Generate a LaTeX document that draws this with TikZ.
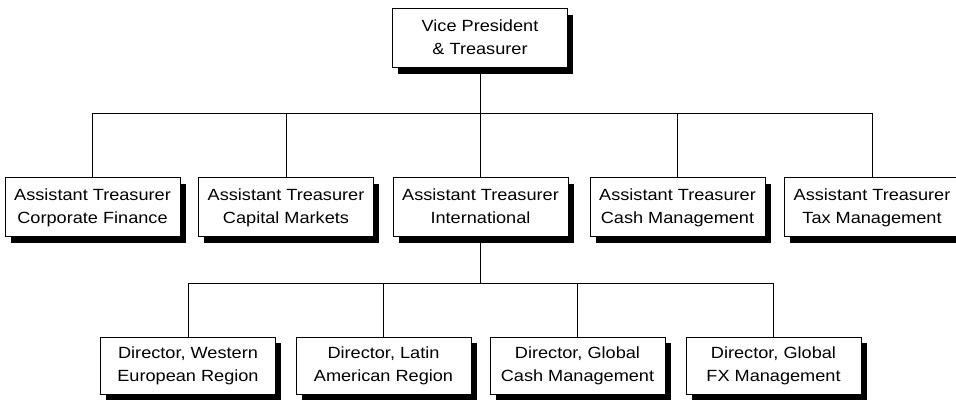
\documentclass[tikz,border=0pt]{standalone}
\usepackage{fontspec}
\setmainfont{Liberation Sans}[FakeStretch=1.12]
\usetikzlibrary{shadows}

% two centred lines with equal line boxes
\newcommand\twoline[2]{\strut#1\\\strut#2}

\tikzset{
  orgbox/.style={draw=black, line width=1pt, fill=white,
    minimum width=175pt, minimum height=59pt, inner sep=0pt,
    align=center, font=\fontsize{16.2}{23}\selectfont,
    drop shadow={shadow xshift=5.5pt, shadow yshift=-6pt, fill=black, opacity=1}},
  dirbox/.style={orgbox, minimum height=57pt},
  link/.style={line width=1pt, draw=black}
}

\begin{document}
\begin{tikzpicture}[x=1pt,y=-1pt]
  \useasboundingbox (0,0) rectangle (956,401);
  \clip (0,0) rectangle (956,401);

  % top of the chart
  \node[orgbox] (vp) at (480,38.5) {\twoline{Vice President}{\& Treasurer}};

  % assistant treasurers
  \node[orgbox] (a1) at (92.5,207)  {\twoline{Assistant Treasurer}{Corporate Finance}};
  \node[orgbox] (a2) at (286,207)   {\twoline{Assistant Treasurer}{Capital Markets}};
  \node[orgbox] (a3) at (480.5,207) {\twoline{Assistant Treasurer}{International}};
  \node[orgbox] (a4) at (677.5,207) {\twoline{Assistant Treasurer}{Cash Management}};
  \node[orgbox] (a5) at (872,207)   {\twoline{Assistant Treasurer}{Tax Management}};

  % regional directors
  \node[dirbox] (d1) at (188,365.5)   {\twoline{Director, Western}{European Region}};
  \node[dirbox] (d2) at (383.5,365.5) {\twoline{Director, Latin}{American Region}};
  \node[dirbox] (d3) at (577.5,365.5) {\twoline{Director, Global}{Cash Management}};
  \node[dirbox] (d4) at (773.5,365.5) {\twoline{Director, Global}{FX Management}};

  % bus levels
  \coordinate (bt) at (0,114);
  \coordinate (bb) at (0,283);

  % connectors, first level
  \draw[link] (vp.south) -- (vp.south |- bt);
  \draw[link] (a1.north) |- (a5.north |- bt) -- (a5.north);
  \draw[link] (a2.north) -- (a2.north |- bt);
  \draw[link] (a3.north) -- (a3.north |- bt);
  \draw[link] (a4.north) -- (a4.north |- bt);

  % connectors, second level
  \draw[link] (a3.south) -- (a3.south |- bb);
  \draw[link] (d1.north) |- (d4.north |- bb) -- (d4.north);
  \draw[link] (d2.north) -- (d2.north |- bb);
  \draw[link] (d3.north) -- (d3.north |- bb);
\end{tikzpicture}
\end{document}
